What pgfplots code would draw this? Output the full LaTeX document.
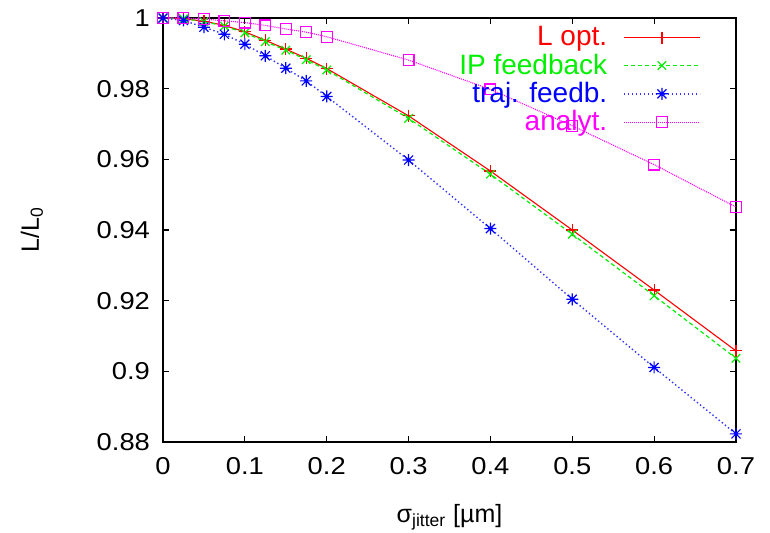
\documentclass[border=0pt]{standalone}
\usepackage{fontspec}
\setmainfont{Liberation Sans}
\newfontfamily\tickfont[FakeStretch=1.12]{Liberation Sans}
\usepackage{pgfplots}
\pgfplotsset{compat=1.18}

\definecolor{gpred}{RGB}{255,0,0}
\definecolor{gpgreen}{RGB}{0,240,0}
\definecolor{gpblue}{RGB}{0,0,255}
\definecolor{gpmag}{RGB}{255,0,255}

% gnuplot style star: plus and cross on top of each other
\pgfdeclareplotmark{gpstar}{%
  \pgfpathmoveto{\pgfqpoint{-\pgfplotmarksize}{0pt}}%
  \pgfpathlineto{\pgfqpoint{\pgfplotmarksize}{0pt}}%
  \pgfpathmoveto{\pgfqpoint{0pt}{-\pgfplotmarksize}}%
  \pgfpathlineto{\pgfqpoint{0pt}{\pgfplotmarksize}}%
  \pgfpathmoveto{\pgfqpoint{-0.75\pgfplotmarksize}{-0.75\pgfplotmarksize}}%
  \pgfpathlineto{\pgfqpoint{0.75\pgfplotmarksize}{0.75\pgfplotmarksize}}%
  \pgfpathmoveto{\pgfqpoint{-0.75\pgfplotmarksize}{0.75\pgfplotmarksize}}%
  \pgfpathlineto{\pgfqpoint{0.75\pgfplotmarksize}{-0.75\pgfplotmarksize}}%
  \pgfusepathqstroke}

\begin{document}
\begin{tikzpicture}
\useasboundingbox (-81.5pt,-45pt) rectangle (303.5pt,221pt);
\begin{axis}[
  scale only axis, width=286.5pt, height=212pt,
  at={(0,0)}, anchor=south west,
  xmin=0, xmax=0.7, ymin=0.88, ymax=1,
  xtick={0,0.1,0.2,0.3,0.4,0.5,0.6,0.7},
  ytick={0.88,0.9,0.92,0.94,0.96,0.98,1},
  xtick pos=both, ytick pos=both, tick align=inside,
  major tick length=3pt,
  /pgf/number format/assume math mode=true,
  tick label style={font=\tickfont\fontsize{12.2}{14}\selectfont},
  xticklabel style={yshift=-4pt},
  yticklabel style={xshift=-3pt},
  xlabel={σ\textsubscript{jitter} [µm]},
  ylabel={L/L\textsubscript{0}},
  label style={font=\fontsize{12.5}{14}\selectfont},
  xlabel style={yshift=-8pt},
  ylabel style={yshift=20pt},
  axis line style={line width=0.6pt},
  every tick/.style={black, line width=0.6pt},
  clip=false,
  legend style={draw=none, fill=none, at={(0.939,0.99)}, anchor=north east,
    font=\fontsize{14}{16}\selectfont, legend cell align=right,
    row sep=-1.5pt, inner sep=0pt},
  legend plot pos=right,
  legend image code/.code={\path (0pt,0pt); \draw[mark repeat=2,mark phase=2,#1] plot coordinates {(6pt,0pt) (25pt,0pt) (44pt,0pt)};},
]
\addplot[color=gpred, line width=0.55pt, mark=+, mark size=3pt, mark options={solid, line width=0.6pt}] coordinates {
  (0,1.0) (0.025,0.9998) (0.05,0.9991) (0.075,0.9979) (0.1,0.9961) (0.125,0.9937)
  (0.15,0.9912) (0.175,0.9886) (0.2,0.9857) (0.3,0.9723) (0.4,0.9567) (0.5,0.9400)
  (0.6,0.9230) (0.7,0.9058)};
\addlegendentry{\textcolor{gpred}{L opt.}}
\addplot[color=gpgreen, line width=0.6pt, dash pattern=on 2pt off 1.5pt, mark=x, mark size=3pt, mark options={solid, line width=0.6pt}] coordinates {
  (0,1.0) (0.025,0.9998) (0.05,0.9990) (0.075,0.9977) (0.1,0.9958) (0.125,0.9933)
  (0.15,0.9909) (0.175,0.9882) (0.2,0.9853) (0.3,0.9716) (0.4,0.9558) (0.5,0.9388)
  (0.6,0.9214) (0.7,0.9037)};
\addlegendentry{\textcolor{gpgreen}{IP feedback}}
\addplot[color=gpblue!80!white, line width=0.7pt, dash pattern=on 0.7pt off 1.3pt, mark=gpstar, mark size=3pt, mark options={solid, gpblue, line width=0.6pt}] coordinates {
  (0,1.0) (0.025,0.9993) (0.05,0.9974) (0.075,0.9954) (0.1,0.9926) (0.125,0.9893)
  (0.15,0.9858) (0.175,0.9822) (0.2,0.9778) (0.3,0.9598) (0.4,0.9404) (0.5,0.9204)
  (0.6,0.9011) (0.7,0.8823)};
\addlegendentry{\textcolor{gpblue}{traj. feedb.}}
\addplot[color=gpmag, line width=0.55pt, dash pattern=on 0.5pt off 0.5pt, mark=square, mark size=2.7pt, mark options={solid, line width=0.6pt}] coordinates {
  (0,1.0) (0.025,1.0) (0.05,0.9997) (0.075,0.9992) (0.1,0.9987) (0.125,0.9979)
  (0.15,0.9969) (0.175,0.9960) (0.2,0.9947) (0.3,0.9881) (0.4,0.9798) (0.5,0.9695)
  (0.6,0.9585) (0.7,0.9465)};
\addlegendentry{\textcolor{gpmag}{analyt.}}
\end{axis}
\end{tikzpicture}
\end{document}
